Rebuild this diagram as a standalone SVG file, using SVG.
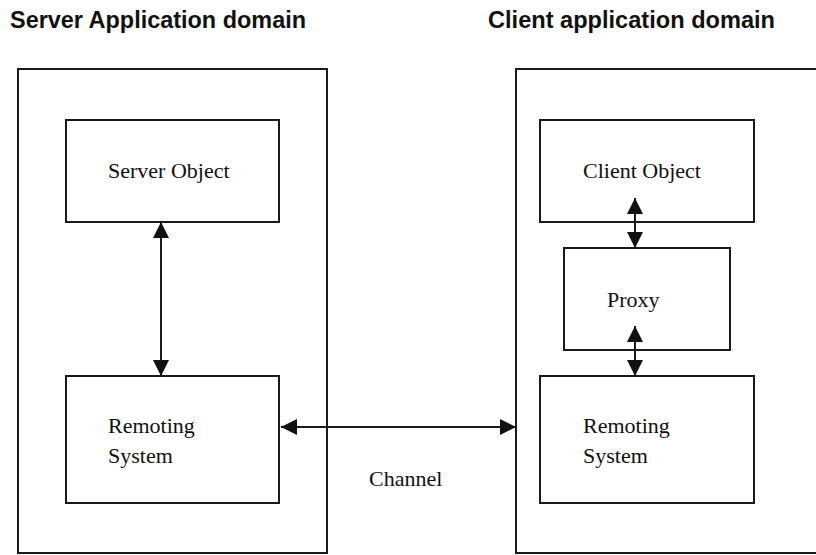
<svg xmlns="http://www.w3.org/2000/svg" width="816" height="555" viewBox="0 0 816 555">
  <style>
    .domain { fill: none; stroke: #1a1a1a; stroke-width: 2; }
    .box { fill: #fff; stroke: #1a1a1a; stroke-width: 2; }
    .title { font-family: "Liberation Sans", Arial, sans-serif; font-weight: bold; font-size: 23px; fill: #111; }
    .label { font-family: "Liberation Serif", "Times New Roman", serif; font-size: 22px; fill: #111; }
    .link { stroke: #1a1a1a; stroke-width: 2; fill: none; marker-start: url(#head); marker-end: url(#head); }
  </style>
  <defs>
    <marker id="head" viewBox="0 0 16 16" refX="16" refY="8" markerWidth="16" markerHeight="16" markerUnits="userSpaceOnUse" orient="auto-start-reverse">
      <path d="M0,0 L16,8 L0,16 Z" fill="#111"/>
    </marker>
  </defs>
  <rect width="816" height="555" fill="#fff"/>

  <!-- application domains -->
  <g id="server-domain">
    <text class="title" x="10" y="28" textLength="296" lengthAdjust="spacingAndGlyphs">Server Application domain</text>
    <rect class="domain" x="18" y="69" width="309" height="484"/>
  </g>
  <g id="client-domain">
    <text class="title" x="488" y="28" textLength="287" lengthAdjust="spacingAndGlyphs">Client application domain</text>
    <rect class="domain" x="516" y="69" width="320" height="484"/>
  </g>

  <!-- server side -->
  <g id="server-object">
    <rect class="box" x="66" y="120" width="213" height="102"/>
    <text class="label" x="108" y="178">Server Object</text>
  </g>
  <g id="server-remoting">
    <rect class="box" x="66" y="376" width="213" height="127"/>
    <text class="label" x="108" y="433">Remoting</text>
    <text class="label" x="108" y="463">System</text>
  </g>

  <!-- client side -->
  <g id="client-object">
    <rect class="box" x="540" y="120" width="214" height="102"/>
    <text class="label" x="583" y="178">Client Object</text>
  </g>
  <g id="proxy">
    <rect class="box" x="564" y="248" width="166" height="102"/>
    <text class="label" x="607" y="307">Proxy</text>
  </g>
  <g id="client-remoting">
    <rect class="box" x="540" y="376" width="214" height="127"/>
    <text class="label" x="583" y="433">Remoting</text>
    <text class="label" x="583" y="463">System</text>
  </g>

  <!-- connectors -->
  <g id="connectors">
    <line class="link" x1="161" y1="222" x2="161" y2="376"/>
    <line class="link" x1="635" y1="198" x2="635" y2="248"/>
    <line class="link" x1="635" y1="326" x2="635" y2="376"/>
    <line class="link" x1="281" y1="427" x2="516" y2="427"/>
    <text class="label" x="369" y="486">Channel</text>
  </g>
</svg>
